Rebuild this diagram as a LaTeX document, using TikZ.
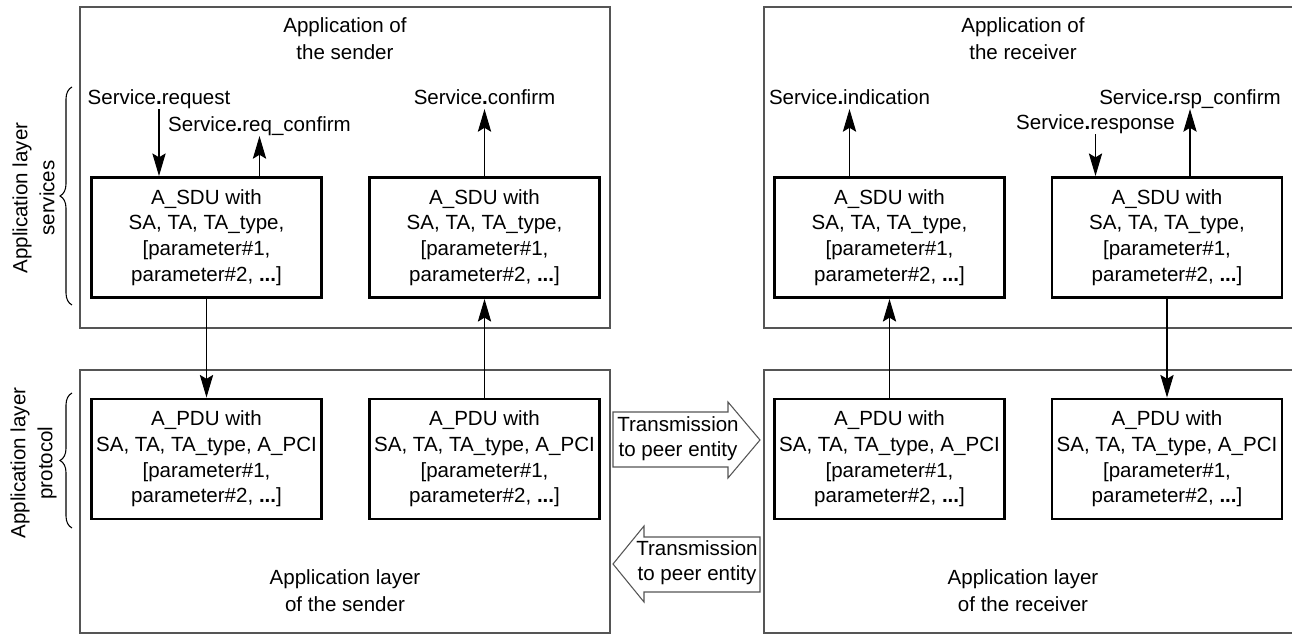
\documentclass[tikz,border=0pt]{standalone}
\usepackage{fontspec}
\setmainfont{Liberation Sans}
\usetikzlibrary{arrows.meta,decorations.pathreplacing}
\definecolor{framegray}{RGB}{85,85,85}

\begin{document}
\begin{tikzpicture}[x=0.75pt,y=-0.75pt,
  every node/.style={inner sep=0pt, align=center},
  txt/.style={font=\fontsize{15.4}{19.3}\selectfont},
  title/.style={font=\fontsize{15.4}{20.2}\selectfont},
  svc/.style={font=\fontsize{15.4}{19.3}\selectfont, anchor=base,
    text height=0.75em, text depth=0.25em, inner ysep=0.75pt},
  outerbox/.style={draw=framegray, line width=1pt},
  unitbox/.style={draw=black, line width=2.2pt, minimum width=172.5pt,
    minimum height=90pt, font=\fontsize{15.4}{19.3}\selectfont},
  arr/.style={-{Stealth[length=17pt,width=10pt,inset=3pt]}, line width=0.8pt},
  fatarrow/.style={draw=framegray, line width=0.8pt, fill=white},
  brc/.style={decorate, decoration={brace, amplitude=9pt}, line width=0.8pt}
]
\useasboundingbox (0,0) rectangle (1292,634);

% layer frames
\draw[outerbox] (80,7) rectangle (610,328);
\draw[outerbox] (80,370) rectangle (610,633);
\draw[outerbox] (1292,7) -- (764,7) -- (764,328) -- (1292,328);
\draw[outerbox] (1292,370) -- (764,370) -- (764,633) -- (1292,633);

% frame titles
\node[title] (tsend) at (345,39) {Application of\\the sender};
\node[title] (trecv) at (1023,39) {Application of\\the receiver};
\node[title] (lsend) at (345,591) {Application layer\\of the sender};
\node[title] (lrecv) at (1023,591) {Application layer\\of the receiver};

% service data units
\node[unitbox] (sdu1) at (206.5,237.5) {A\_SDU with\\SA, TA, TA\_type,\\{}[parameter\#1,\\parameter\#2, \textbf{...}]};
\node[unitbox] (sdu2) at (484.5,237.5) {A\_SDU with\\SA, TA, TA\_type,\\{}[parameter\#1,\\parameter\#2, \textbf{...}]};
\node[unitbox] (sdu3) at (889.5,237.5) {A\_SDU with\\SA, TA, TA\_type,\\{}[parameter\#1,\\parameter\#2, \textbf{...}]};
\node[unitbox] (sdu4) at (1167,237.5) {A\_SDU with\\SA, TA, TA\_type,\\{}[parameter\#1,\\parameter\#2, \textbf{...}]};

% protocol data units
\node[unitbox] (pdu1) at (206.5,459) {A\_PDU with\\SA, TA, TA\_type, A\_PCI\\{}[parameter\#1,\\parameter\#2, \textbf{...}]};
\node[unitbox] (pdu2) at (484.5,459) {A\_PDU with\\SA, TA, TA\_type, A\_PCI\\{}[parameter\#1,\\parameter\#2, \textbf{...}]};
\node[unitbox] (pdu3) at (889.5,459) {A\_PDU with\\SA, TA, TA\_type, A\_PCI\\{}[parameter\#1,\\parameter\#2, \textbf{...}]};
\node[unitbox] (pdu4) at (1167,459) {A\_PDU with\\SA, TA, TA\_type, A\_PCI\\{}[parameter\#1,\\parameter\#2, \textbf{...}]};

% service primitives
\node[svc] (req)  at (159,104.5)  {Service\textbf{.}request};
\node[svc] (rqc)  at (259.5,131.5) {Service\textbf{.}req\_confirm};
\node[svc] (conf) at (484.5,104.5) {Service\textbf{.}confirm};
\node[svc] (ind)  at (849.5,104.5)  {Service\textbf{.}indication};
\node[svc] (rsc)  at (1190,104.5) {Service\textbf{.}rsp\_confirm};
\node[svc] (rsp)  at (1095.5,129.5) {Service\textbf{.}response};

\draw[arr] (req.south) -- (req.south |- sdu1.north);
\draw[arr] (rqc.south |- sdu1.north) -- (rqc.south);
\draw[arr] (sdu2.north) -- (conf.south);
\draw[arr] (ind.south |- sdu3.north) -- (ind.south);
\draw[arr] (rsp.south) -- (rsp.south |- sdu4.north);
\draw[arr] (rsc.south |- sdu4.north) -- (rsc.south);

% between services and protocol
\draw[arr] (sdu1) -- (pdu1);
\draw[arr] (pdu2) -- (sdu2);
\draw[arr] (pdu3) -- (sdu3);
\draw[arr] (sdu4) -- (pdu4);

% transmission to the peer entity
\draw[fatarrow] (613,412) -- (728,412) -- (728,402) -- (760,440) -- (728,478) -- (728,467) -- (613,467) -- cycle;
\node[txt, font=\fontsize{15.4}{18.8}\selectfont] (tx1) at (678,439) {Transmission\\to peer entity};
\draw[fatarrow] (760,537) -- (644,537) -- (644,526) -- (613,564) -- (644,602) -- (644,592) -- (760,592) -- cycle;
\node[txt, font=\fontsize{15.4}{18.8}\selectfont] (tx2) at (697,562.5) {Transmission\\to peer entity};

% layer braces
\draw[brc] (72,305) -- (72,87);
\node[title, rotate=90] (lsvc) at (33.5,198) {Application layer\\services};
\draw[brc] (72,528) -- (72,393);
\node[title, rotate=90] (lprot) at (33.5,463) {Application layer\\protocol};
\end{tikzpicture}
\end{document}
